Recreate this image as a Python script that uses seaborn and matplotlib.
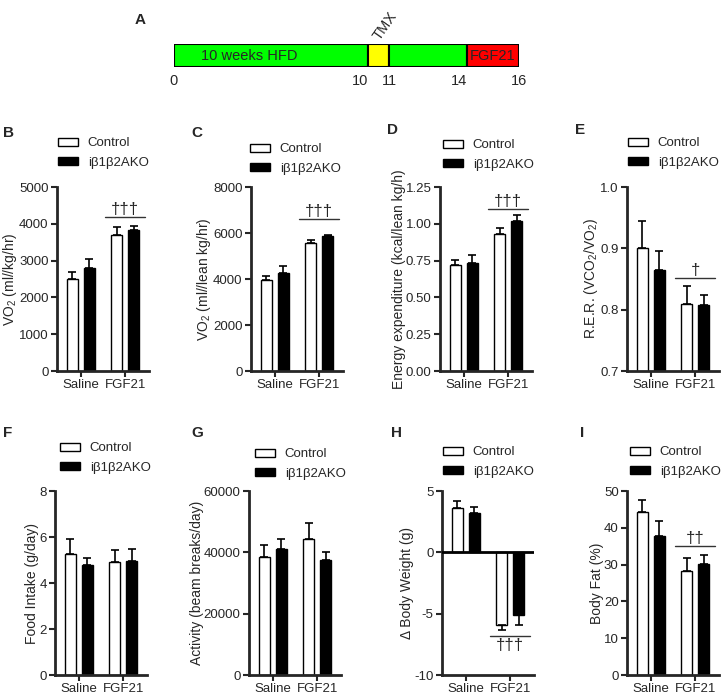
import matplotlib
matplotlib.use('Agg')
import matplotlib.pyplot as plt
import seaborn as sns
import pandas as pd
import numpy as np
from matplotlib.patches import Patch

treatments = ['Saline', 'FGF21']
genotypes = ['Control', 'iβ1β2AKO']

# timeline (panel A) - drawn lengths are schematic, not to scale
timeline_weeks = [0, 10, 11, 14, 16]
timeline_draw_len = [10, 1.08, 4.02, 2.68]
timeline_colors = ['#00ff00', '#ffff00', '#00ff00', '#ff0000']

# means / sem : [Control, KO] x [Saline, FGF21]
vo2_kg_mean = [[2500, 3700], [2790, 3820]]
vo2_kg_sem = [[200, 200], [245, 110]]
vo2_lean_mean = [[3955, 5585], [4275, 5875]]
vo2_lean_sem = [[190, 90], [290, 45]]
ee_mean = [[0.718, 0.932], [0.736, 1.020]]
ee_sem = [[0.034, 0.038], [0.055, 0.037]]
rer_mean = [[0.901, 0.810], [0.865, 0.807]]
rer_sem = [[0.043, 0.029], [0.031, 0.017]]
food_mean = [[5.26, 4.91], [4.77, 4.97]]
food_sem = [[0.66, 0.54], [0.30, 0.51]]
activity_mean = [[38600, 44200], [41100, 37500]]
activity_sem = [[3850, 5400], [3300, 2650]]
dbw_mean = [[3.64, -5.89], [3.23, -5.07]]
dbw_sem = [[0.58, 0.41], [0.44, 0.88]]
fat_mean = [[44.3, 28.3], [37.7, 30.2]]
fat_sem = [[3.2, 3.4], [4.2, 2.5]]

sns.set_style('ticks')
plt.rcParams['font.family'] = ['Liberation Sans', 'DejaVu Sans']
plt.rcParams['mathtext.fontset'] = 'custom'
plt.rcParams['mathtext.rm'] = 'Liberation Sans'
plt.rcParams['mathtext.default'] = 'regular'

W, H = 721, 699
fig = plt.figure(figsize=(W / 100, H / 100), dpi=100)
FS = 9.5


def px_axes(left, top, width, height):
    return fig.add_axes([left / W, 1 - (top + height) / H, width / W, height / H])


def draw_panel(ax, mean, sem, ylim, yticks, ylabel, fmt, sig=None, sig_y=None, below=False):
    df = pd.DataFrame({'treatment': treatments * 2,
                       'genotype': np.repeat(genotypes, 2),
                       'value': np.ravel(mean)})
    sns.barplot(data=df, x='treatment', y='value', hue='genotype', order=treatments,
                hue_order=genotypes, palette=['white', 'black'], saturation=1,
                edgecolor='black', linewidth=1.0, width=0.76, gap=0.37,
                errorbar=None, legend=False, ax=ax)
    bars = sorted(ax.patches, key=lambda p: p.get_x())
    errs = [sem[0][0], sem[1][0], sem[0][1], sem[1][1]]
    for bar, e in zip(bars, errs):
        xc = bar.get_x() + bar.get_width() / 2
        h = bar.get_height()
        yerr = [[0], [e]] if h >= 0 else [[e], [0]]
        ax.errorbar(xc, h, yerr=yerr, color='black', lw=1.2, capsize=3, capthick=1.2, zorder=3)
    ax.set_xlim(-0.53, 1.53)
    ax.set_ylim(*ylim)
    ax.set_yticks(yticks)
    ax.set_yticklabels([fmt.format(v) for v in yticks])
    ax.set_xlabel('')
    ax.set_ylabel(ylabel, fontsize=10, labelpad=0)
    ax.tick_params(direction='out', length=4.5, width=1.5, labelsize=FS, pad=1.5)
    for s in ['left', 'bottom']:
        ax.spines[s].set_linewidth(2)
    sns.despine(ax=ax)
    if sig:
        grp = bars[2:]
        x0 = grp[0].get_x() - 0.14
        x1 = grp[1].get_x() + grp[1].get_width() + 0.14
        ax.plot([x0, x1], [sig_y, sig_y], color='#333333', lw=1)
        if below:
            ax.annotate(sig, ((x0 + x1) / 2, sig_y), xytext=(0, -1), textcoords='offset points',
                        ha='center', va='top', fontsize=12)
        else:
            ax.annotate(sig, ((x0 + x1) / 2, sig_y), xytext=(0, 0), textcoords='offset points',
                        ha='center', va='bottom', fontsize=12)


def add_legend(ax, x, yc):
    handles = [Patch(facecolor='white', edgecolor='black', lw=1),
               Patch(facecolor='black', edgecolor='black', lw=1)]
    ax.legend(handles, genotypes, loc='center left', bbox_to_anchor=(x / W, 1 - yc / H),
              bbox_transform=fig.transFigure, frameon=False, fontsize=FS, borderpad=0,
              borderaxespad=0, handlelength=1.5, handleheight=0.6, handletextpad=0.75,
              labelspacing=0.55)


# ---- panel A : timeline
ax_a = px_axes(174, 44, 345, 23)
starts = np.concatenate([[0], np.cumsum(timeline_draw_len)[:-1]])
ax_a.barh(0, timeline_draw_len, left=starts, height=1, color=timeline_colors,
          edgecolor='black', linewidth=1.5)
edges = np.concatenate([[0], np.cumsum(timeline_draw_len)])
ax_a.set_xlim(0, edges[-1])
ax_a.set_ylim(-0.5, 0.5)
ax_a.axis('off')
for pos, wk, ha in zip(edges, timeline_weeks, ['center', 'right', 'center', 'right', 'center']):
    ax_a.text(pos, -1.1, str(wk), ha=ha, va='center', fontsize=10.5)
ax_a.text(starts[0] + 0.39 * timeline_draw_len[0], 0, '10 weeks HFD', ha='center', va='center', fontsize=10.5)
ax_a.text(starts[3] + timeline_draw_len[3] / 2, 0, 'FGF21', ha='center', va='center', fontsize=10.5)
ax_a.text(starts[1] + timeline_draw_len[1] / 2 + 0.2, 0.55, 'TMX', ha='left', va='bottom',
          rotation=55, rotation_mode='anchor', fontsize=10.5)
fig.text(140 / W, 1 - 20 / H, 'A', fontsize=11, fontweight='bold', ha='center', va='center')

# ---- panels B-I
top_left = [57, 251, 440, 627]
bot_left = [55, 249, 442, 627]
AW, AH = 92, 184

panels = [
    dict(lab='B', left=top_left[0], top=187, mean=vo2_kg_mean, sem=vo2_kg_sem, ylim=(0, 5000),
         yticks=[0, 1000, 2000, 3000, 4000, 5000], ylabel='VO$_2$ (ml//kg/hr)', fmt='{:d}',
         sig='†††', sig_y=4180, leg=(58, 153), labpos=(8, 133)),
    dict(lab='C', left=top_left[1], top=187, mean=vo2_lean_mean, sem=vo2_lean_sem, ylim=(0, 8000),
         yticks=[0, 2000, 4000, 6000, 8000], ylabel='VO$_2$ (ml//lean kg/hr)', fmt='{:d}',
         sig='†††', sig_y=6600, leg=(250, 159), labpos=(197, 133)),
    dict(lab='D', left=top_left[2], top=187, mean=ee_mean, sem=ee_sem, ylim=(0, 1.25),
         yticks=[0, 0.25, 0.5, 0.75, 1.0, 1.25], ylabel='Energy expenditure (kcal/lean kg/h)',
         fmt='{:.2f}', sig='†††', sig_y=1.10, leg=(443, 155), labpos=(392, 130)),
    dict(lab='E', left=top_left[3], top=187, mean=rer_mean, sem=rer_sem, ylim=(0.7, 1.0),
         yticks=[0.7, 0.8, 0.9, 1.0], ylabel='R.E.R. (VCO$_2$/VO$_2$)', fmt='{:.1f}',
         sig='†', sig_y=0.851, leg=(628, 153), labpos=(580, 130)),
    dict(lab='F', left=bot_left[0], top=491, mean=food_mean, sem=food_sem, ylim=(0, 8),
         yticks=[0, 2, 4, 6, 8], ylabel='Food Intake (g/day)', fmt='{:d}',
         leg=(60, 458), labpos=(8, 433)),
    dict(lab='G', left=bot_left[1], top=491, mean=activity_mean, sem=activity_sem, ylim=(0, 60000),
         yticks=[0, 20000, 40000, 60000], ylabel='Activity (beam breaks/day)', fmt='{:d}',
         leg=(255, 464), labpos=(197, 433)),
    dict(lab='H', left=bot_left[2], top=491, mean=dbw_mean, sem=dbw_sem, ylim=(-10, 5),
         yticks=[-10, -5, 0, 5], ylabel='Δ Body Weight (g)', fmt='{:d}',
         sig='†††', sig_y=-6.85, below=True, leg=(443, 462), labpos=(397, 433)),
    dict(lab='I', left=bot_left[3], top=491, mean=fat_mean, sem=fat_sem, ylim=(0, 50),
         yticks=[0, 10, 20, 30, 40, 50], ylabel='Body Fat (%)', fmt='{:d}',
         sig='††', sig_y=35.1, leg=(630, 462), labpos=(582, 433)),
]

for p in panels:
    ax = px_axes(p['left'], p['top'], AW, AH)
    draw_panel(ax, p['mean'], p['sem'], p['ylim'], p['yticks'], p['ylabel'], p['fmt'],
               p.get('sig'), p.get('sig_y'), p.get('below', False))
    if p['lab'] == 'H':
        ax.axhline(0, color='black', lw=2, zorder=4)
    add_legend(ax, *p['leg'])
    fig.text(p['labpos'][0] / W, 1 - p['labpos'][1] / H, p['lab'], fontsize=11,
             fontweight='bold', ha='center', va='center')

fig.savefig('out.png', dpi=100)
